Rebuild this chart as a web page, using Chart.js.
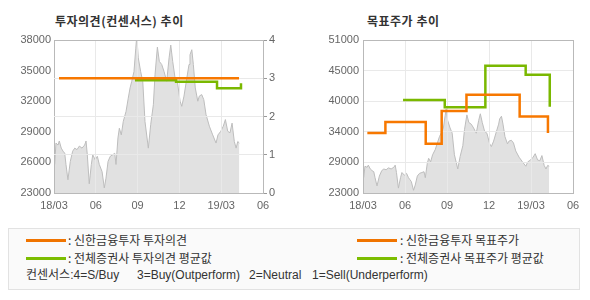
<!DOCTYPE html>
<html>
<head>
<meta charset="utf-8">
<script src="https://cdn.jsdelivr.net/npm/chart.js@4.4.0/dist/chart.umd.min.js"></script>
<style>
body{margin:0;background:#fff;width:590px;height:300px;position:relative;overflow:hidden;font-family:"Noto Sans CJK KR",sans-serif;}
.title{position:absolute;top:14px;font-size:12px;line-height:14px;font-weight:bold;color:#333;letter-spacing:0.5px;white-space:pre;}
.wrap{position:absolute;top:0;height:215px;}
.legend{position:absolute;left:8px;top:228px;width:572px;height:62px;border:1px solid #e2e2e2;background:#fafafa;box-sizing:border-box;}
.item{position:absolute;font-size:12px;color:#333;line-height:14px;white-space:pre;}
.note{font-family:"Liberation Sans","Noto Sans CJK KR",sans-serif;}
.swatch{position:absolute;width:40px;height:3px;}
</style>
</head>
<body>
<div class="title" style="left:55px;">투자의견(컨센서스) 추이</div>
<div class="title" style="left:367px;">목표주가 추이</div>
<div class="wrap" style="left:0;width:290px;"><canvas id="canvasL" width="290" height="215"></canvas></div>
<div class="wrap" style="left:290px;width:300px;"><canvas id="canvasR" width="300" height="215"></canvas></div>

<div class="legend"></div>
<div class="swatch" style="left:26px;top:239px;background:#f07400;"></div>
<div class="item" style="left:68px;top:233px;">: 신한금융투자 투자의견</div>
<div class="swatch" style="left:26px;top:257px;background:#7cbd00;"></div>
<div class="item" style="left:68px;top:251px;">: 전체증권사 투자의견 평균값</div>
<div class="swatch" style="left:357px;top:239px;background:#f07400;"></div>
<div class="item" style="left:400px;top:233px;">: 신한금융투자 목표주가</div>
<div class="swatch" style="left:357px;top:257px;background:#7cbd00;"></div>
<div class="item" style="left:400px;top:251px;">: 전체증권사 목표주가 평균값</div>
<div class="item note" style="left:26px;top:268px;">컨센서스:4=S/Buy</div>
<div class="item note" style="left:137px;top:268px;">3=Buy(Outperform)</div>
<div class="item note" style="left:249px;top:268px;">2=Neutral</div>
<div class="item note" style="left:312px;top:268px;">1=Sell(Underperform)</div>

<script>
// x = months since 2018/03
var monthLabels = ['18/03','06','09','12','19/03','06'];

// 주가 (gray area)
var priceX = [0.05,0.14,0.29,0.38,0.52,0.65,0.77,0.86,1.0,1.17,1.34,1.49,1.65,1.82,2.01,2.2,2.3,2.39,2.53,2.68,
	2.78,2.96,3.11,3.25,3.35,3.45,3.61,3.73,3.88,4.04,4.21,4.36,4.45,4.59,4.69,4.83,4.97,5.17,5.33,5.46,
	5.58,5.74,5.87,5.94,6.05,6.22,6.37,6.53,6.77,6.94,7.13,7.25,7.42,7.56,7.73,7.9,8.09,8.26,8.38,8.52,
	8.69,8.85,9.05,9.17,9.33,9.53,9.69,9.76,9.89,10.0,10.14,10.32,10.43,10.6,10.75,10.91,11.15,11.39,11.63,11.77,
	11.97,12.15,12.3,12.47,12.63,12.78,12.94,13.07,13.19,13.3];
var priceY = [25800,27900,27700,28100,27400,27100,26900,25800,24300,26100,27100,27400,27250,27600,27400,27700,28100,26750,23900,25800,
	26750,26250,26600,25800,25450,25100,23500,24450,26100,26600,26750,26900,25800,28400,29350,28700,30000,31000,32300,33300,
	33950,34900,37200,38400,36250,34900,33950,30000,27400,29700,31650,34600,37300,35900,35600,34900,33950,36250,37500,35900,
	34250,33950,32000,31500,32500,34250,35600,36550,37050,35600,33300,32000,32500,32650,32150,30700,29550,28700,27900,28700,
	29050,29550,30200,29050,28900,29850,28050,27400,28050,27900];

// 투자의견
var opinionX = [0.36, 13.28];
var opinionY = [3, 3];
var avgOpinionX = [5.81, 8.76, 11.70, 13.42];
var avgOpinionY = [2.95, 2.91, 2.74, 2.87];

// 목표주가
var targetX = [0.31, 1.6, 4.48, 5.62, 7.39, 11.19, 13.21];
var targetY = [34000, 36000, 32000, 38000, 41000, 37000, 34000];
var avgTargetX = [2.86, 5.84, 8.74, 11.62, 13.34];
var avgTargetY = [40000, 38700, 46300, 44650, 38800];

var ORANGE = '#f77800';
var GREEN = '#7ab800';
var GRID = '#e9e9e9';
var EDGE = '#b9b9b9';
var tickFont = {family:'Liberation Sans', size:11};

function pts(xs, ys){
	return xs.map(function(x, i){ return {x:x, y:ys[i]}; });
}

// redraw the grid right after the gray area so it shows through it
var gridOnTop = {
	id: 'gridOnTop',
	afterDatasetDraw: function(chart, args){
		if(args.index != 0) return;
		var area = chart.chartArea;
		Object.keys(chart.scales).forEach(function(k){
			chart.scales[k].drawGrid(area);
		});
	}
};

function priceSet(yAxis){
	return {
		data: pts(priceX, priceY), yAxisID: yAxis, order: 2,
		fill: 'start', backgroundColor: '#e1e1e1', borderColor: '#bdbdbd', borderWidth: 1,
		pointRadius: 0, tension: 0
	};
}
function stepSet(xs, ys, color, yAxis){
	return {
		data: pts(xs, ys), yAxisID: yAxis, order: 1, stepped: true,
		borderColor: color, borderWidth: 2.5, pointRadius: 0, fill: false,
		borderCapStyle: 'butt', borderJoinStyle: 'miter'
	};
}
function xScale(){
	return {
		type: 'linear', min: 0, max: 15,
		afterFit: function(s){ s.height = 22; },
		grid: { color: function(c){ return (c.tick.value == 0 || c.tick.value == 15) ? EDGE : GRID; }, drawTicks: false },
		border: { color: EDGE },
		ticks: { stepSize: 3, autoSkip: false, maxRotation: 0, padding: 6, font: tickFont, color: '#666',
			callback: function(v){ return monthLabels[Math.round(v / 3)]; } }
	};
}

var chartL = new Chart(document.getElementById('canvasL').getContext('2d'), {
	type: 'line',
	data: { datasets: [
		priceSet('y'),
		stepSet(opinionX, opinionY, ORANGE, 'y1'),
		stepSet(avgOpinionX, avgOpinionY, GREEN, 'y1')
	]},
	options: {
		responsive: false, animation: false,
		layout: { padding: { top: 40, left: 0, right: 0, bottom: 0 } },
		plugins: { legend: { display: false }, tooltip: { enabled: false } },
		scales: {
			x: xScale(),
			y: {
				position: 'left', min: 23000, max: 38000,
				afterFit: function(s){ s.width = 54; },
				grid: { display: false, drawTicks: false },
				border: { color: EDGE },
				ticks: { stepSize: 3000, padding: 3, font: tickFont, color: '#666',
					callback: function(v){ return String(v); } }
			},
			y1: {
				position: 'right', min: 0, max: 4,
				afterFit: function(s){ s.width = 27; },
				grid: { color: function(c){ return (c.tick.value == 0 || c.tick.value == 4) ? EDGE : GRID; },
					tickColor: '#999', tickLength: 4 },
				border: { color: EDGE },
				ticks: { stepSize: 1, padding: 2, font: tickFont, color: '#666' }
			}
		}
	},
	plugins: [gridOnTop]
});

var chartR = new Chart(document.getElementById('canvasR').getContext('2d'), {
	type: 'line',
	data: { datasets: [
		priceSet('y'),
		stepSet(targetX, targetY, ORANGE, 'y'),
		stepSet(avgTargetX, avgTargetY, GREEN, 'y')
	]},
	options: {
		responsive: false, animation: false,
		layout: { padding: { top: 40, left: 0, right: 17, bottom: 0 } },
		plugins: { legend: { display: false }, tooltip: { enabled: false } },
		scales: {
			x: xScale(),
			y: {
				position: 'left', min: 23000, max: 51000,
				afterFit: function(s){ s.width = 73; },
				grid: { color: function(c){ return (c.tick.value == 23000 || c.tick.value == 51000) ? EDGE : GRID; }, drawTicks: false },
				border: { color: EDGE },
				ticks: { stepSize: 5600, padding: 4, font: tickFont, color: '#666',
					callback: function(v){ return String(Math.round(v / 1000) * 1000); } }
			}
		}
	},
	plugins: [gridOnTop]
});
</script>
</body>
</html>
